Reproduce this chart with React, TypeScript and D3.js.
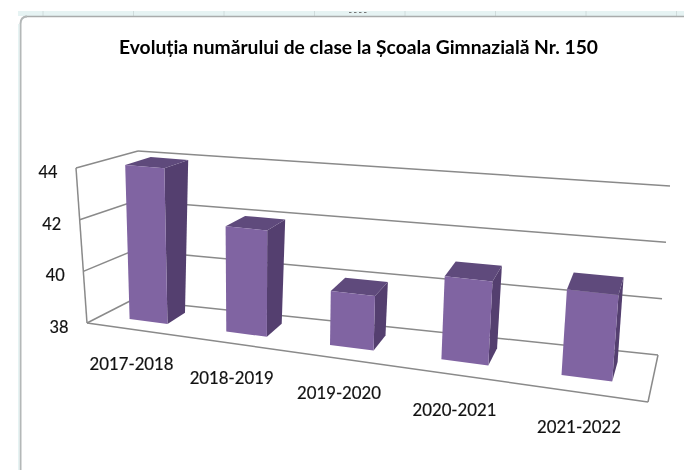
import React from "react";
import * as d3 from "d3";

const title = "Evoluția numărului de clase la Școala Gimnazială Nr. 150";
const categories = ["2017-2018", "2018-2019", "2019-2020", "2020-2021", "2021-2022"];
const values = [44, 42, 40, 41, 41];
const yTicks = [38, 40, 42, 44];
const rulerMarks = [0, 1, 2, 3, 4, 5, 6, 7];

type Pt = [number, number];
// Projected corners of the 3D plot box
const FL0: Pt = [87, 323], BL0: Pt = [132, 300], FR0: Pt = [648, 402], BR0: Pt = [658, 355];
const FL1: Pt = [76, 168], BL1: Pt = [138, 151], FR1: Pt = [663, 225], BR1: Pt = [670, 186];

const K = 1.2;
const warp = (u: number) => u / (u + K * (1 - u));
const mix = (a: Pt, b: Pt, s: number): Pt => [a[0] + (b[0] - a[0]) * s, a[1] + (b[1] - a[1]) * s];
const tScale = d3.scaleLinear().domain([38, 44]).range([0, 1]);
const xBand = d3.scaleBand<string>().domain(categories).range([0, 1]).paddingInner(0.6).paddingOuter(0.3);
const D_FRONT = 0.33, D_BACK = 0.76;

function project(u: number, d: number, v: number): Pt {
  const p = warp(u), t = tScale(v);
  const front = mix(mix(FL0, FR0, p), mix(FL1, FR1, p), t);
  const back = mix(mix(BL0, BR0, p), mix(BL1, BR1, p), t);
  return mix(front, back, d);
}
const poly = (pts: Pt[]) => pts.map((q) => q.map((n) => n.toFixed(1)).join(",")).join(" ");
const seg = (a: Pt, b: Pt, color = "#8a8a8a", w = 1.5) => (
  <line x1={a[0]} y1={a[1]} x2={b[0]} y2={b[1]} stroke={color} strokeWidth={w} />
);
const FONT = "Lato, 'Noto Sans', sans-serif";

export default function App() {
  return (
    <svg width={684} height={476} style={{ position: "absolute", left: 0, top: 0, background: "#fff", filter: "blur(0.35px)" }}>
      <rect x={0} y={0} width={684} height={476} fill="#fff" />
      {/* sheet frame */}
      <rect x={18} y={11} width={666} height={5} fill="#e6f3f3" />
      {rulerMarks.map((i) => (
        <line key={i} x1={43 + i * 90.5} x2={43 + i * 90.5} y1={11} y2={16} stroke="#d0dcdc" />
      ))}
      <line x1={349} x2={369} y1={12.5} y2={12.5} stroke="#777" strokeDasharray="2.5 2.5" />
      <line x1={25} x2={684} y1={16.5} y2={16.5} stroke="#a9acac" strokeWidth={1.5} />
      <path d="M20.5 470 V24 Q20.5 16.5 27 16.5" fill="none" stroke="#b4b8b8" strokeWidth={2} />
      <rect x={18} y={24} width={1.5} height={446} fill="#e6f3f3" />

      <text x={358.5} y={54} textAnchor="middle" fontFamily={FONT} fontWeight={700} fontSize={19.5} fill="#000"
        textLength={479} lengthAdjust="spacingAndGlyphs">{title}</text>

      {/* back wall + side wall grid */}
      {yTicks.map((v) => (
        <g key={v}>
          {seg(project(0, 1, v), project(1, 1, v))}
          {seg(project(0, 0, v), project(0, 1, v))}
          <text x={project(0, 0, v)[0] - 28} y={project(0, 0, v)[1] + 10} textAnchor="middle"
            fontFamily={FONT} fontSize={18} fill="#111" stroke="#111" strokeWidth={0.2}
            textLength={19} lengthAdjust="spacingAndGlyphs">{v}</text>
        </g>
      ))}
      {seg(project(0, 0, 38), project(0, 0, 44))}
      {/* floor */}
      {seg(project(0, 0, 38), project(1, 0, 38))}
      {seg(project(1, 0, 38), project(1, 1, 38))}

      {categories.map((c, i) => {
        const u0 = xBand(c)!, u1 = u0 + xBand.bandwidth(), v = values[i];
        const fbl = project(u0, D_FRONT, 38), fbr = project(u1, D_FRONT, 38);
        const ftl = project(u0, D_FRONT, v), ftr = project(u1, D_FRONT, v);
        const bbr = project(u1, D_BACK, 38), btr = project(u1, D_BACK, v), btl = project(u0, D_BACK, v);
        const lab = project((u0 + u1) / 2, 0, 38);
        return (
          <g key={c}>
            <polygon points={poly([ftr, btr, bbr, fbr])} fill="#543f6f" />
            <polygon points={poly([ftl, ftr, btr, btl])} fill="#5f4a7c" />
            <polygon points={poly([ftl, ftr, fbr, fbl])} fill="#8064a2" />
            <text x={lab[0] - 3} y={lab[1] + 40.5} textAnchor="middle" fontFamily={FONT} fontSize={17.5} fill="#111"
              stroke="#111" strokeWidth={0.2} textLength={84} lengthAdjust="spacingAndGlyphs">{c}</text>
          </g>
        );
      })}
    </svg>
  );
}
